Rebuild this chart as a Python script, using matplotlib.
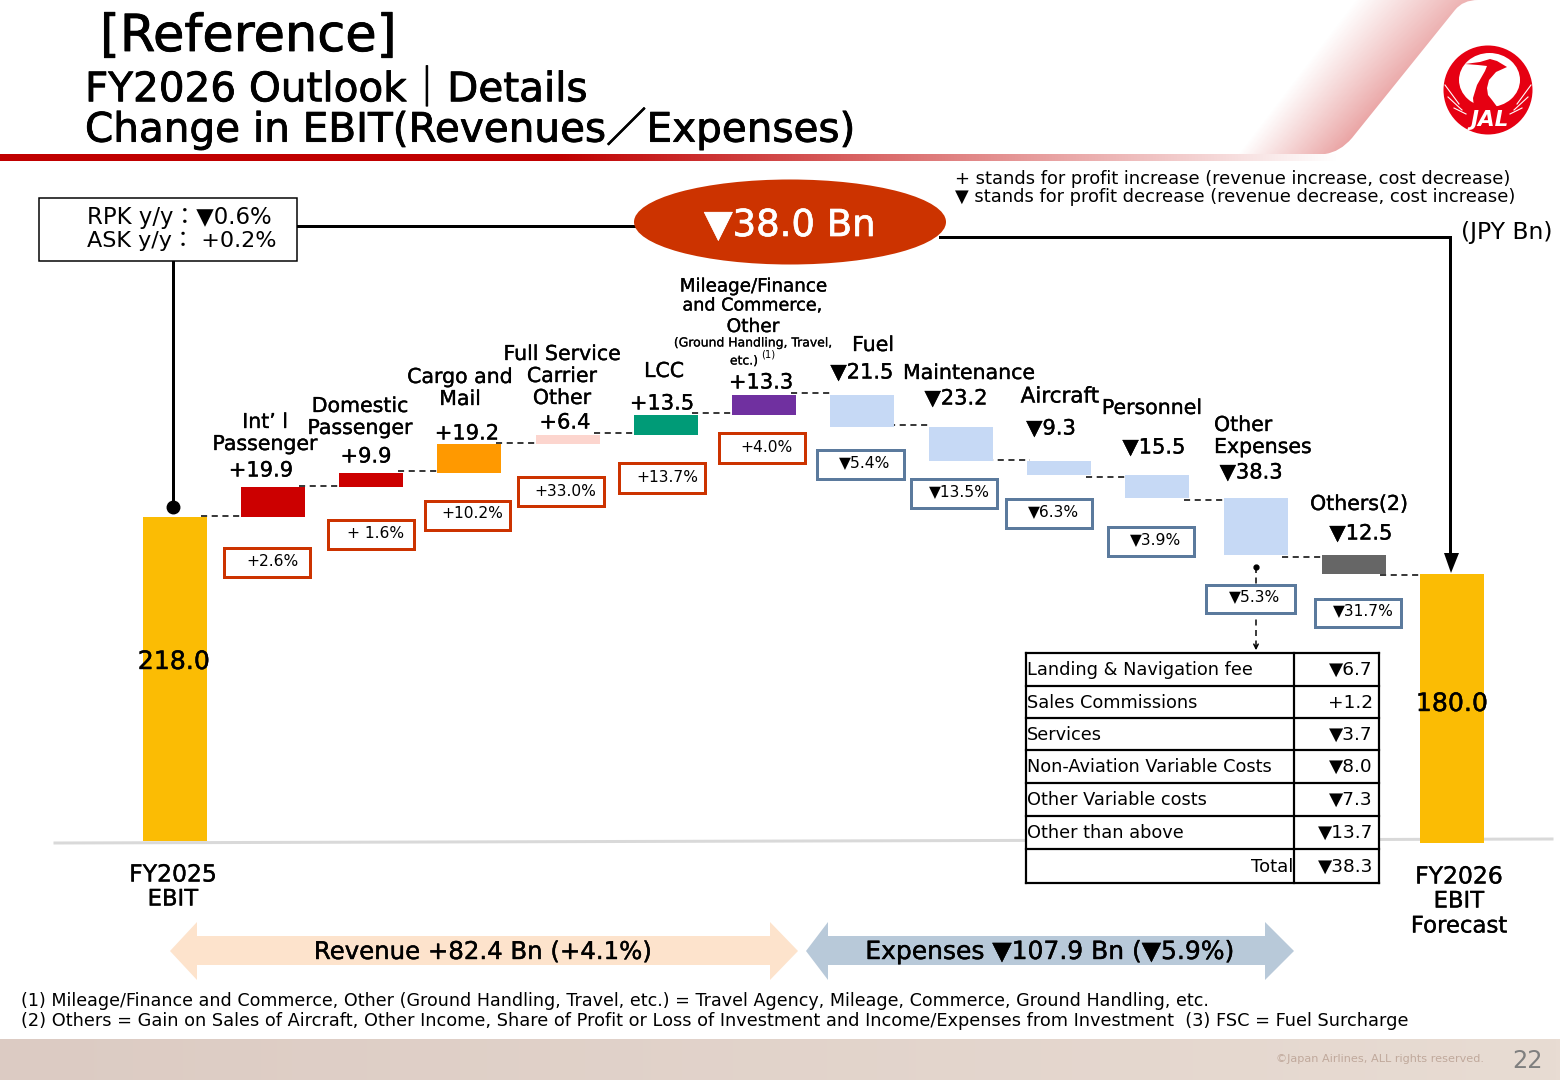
import numpy as np
import matplotlib
matplotlib.use("Agg")
import matplotlib.pyplot as plt
import matplotlib.patheffects as pe
from matplotlib.patches import Rectangle, Ellipse, Polygon, PathPatch
from matplotlib.path import Path

plt.rcParams['font.family'] = ['DejaVu Sans', 'Noto Sans CJK JP']

# ---------- data ----------
start_value = 218.0
end_value = 180.0
step_names = ["Int'l Passenger", "Domestic Passenger", "Cargo and Mail", "Full Service Carrier Other",
              "LCC", "Mileage/Finance and Commerce, Other", "Fuel", "Maintenance", "Aircraft",
              "Personnel", "Other Expenses", "Others(2)"]
step_values = [19.9, 9.9, 19.2, 6.4, 13.5, 13.3, -21.5, -23.2, -9.3, -15.5, -38.3, -12.5]
step_colors = ["#cc0000", "#cc0000", "#ff9900", "#fcd5ce", "#009b77", "#7030a0",
               "#c6d9f5", "#c6d9f5", "#c6d9f5", "#c6d9f5", "#c6d9f5", "#666666"]
step_pcts = ["+2.6%", "+ 1.6%", "+10.2%", "+33.0%", "+13.7%", "+4.0%",
             "▼5.4%", "▼13.5%", "▼6.3%", "▼3.9%", "▼5.3%", "▼31.7%"]
table_names = ["Landing & Navigation fee", "Sales Commissions", "Services",
               "Non-Aviation Variable Costs", "Other Variable costs", "Other than above"]
table_values = ["▼6.7", "+1.2", "▼3.7", "▼8.0", "▼7.3", "▼13.7"]
table_total = "▼38.3"

# ---------- layout (pixels) ----------
W, H = 1560, 1080
X0, DX = 174.6, 98.27
Y0, SY = 841.0, 1.486
BAR_W = 64 / DX
value_xy = [(261, 470), (366, 456), (467, 433), (565, 422), (662, 403), (761, 382),
            (862, 372), (956, 398), (1051, 428), (1154, 447), (1251, 472), (1361, 533)]
pct_boxes = [(224, 548, 310, 577, 272, 561), (328, 520, 414, 549, 376, 534),
             (425, 501, 510, 530, 472, 514), (518, 477, 604, 506, 565, 491),
             (619, 463, 705, 493, 667, 477), (719, 433, 805, 463, 767, 447),
             (817, 450, 904, 479, 865, 463), (911, 479, 997, 508, 959, 492),
             (1006, 499, 1092, 528, 1054, 512), (1108, 527, 1194, 556, 1156, 540),
             (1206, 585, 1295, 613, 1255, 597), (1315, 599, 1401, 627, 1363, 611)]
table_y = [653, 686, 718, 750, 783, 816, 849, 883]
table_x = [1026, 1294, 1379]

fig = plt.figure(figsize=(W / 100, H / 100), dpi=100, facecolor="white")

# ---------- waterfall axes ----------
ax = fig.add_axes([0, 0, 1, 1], zorder=1)
ax.set_xlim(-X0 / DX, (W - X0) / DX)
ax.set_ylim((Y0 - H) / SY, Y0 / SY)
ax.axis("off")

n = len(step_values)
tops = [start_value]
bottoms, heights = [], []
lvl = start_value
for v in step_values:
    new = lvl + v
    bottoms.append(min(lvl, new))
    heights.append(abs(v))
    lvl = new
    tops.append(lvl)

ax.bar([0], [start_value], width=BAR_W, color="#fbbc04", zorder=3)
ax.bar(np.arange(1, n + 1), heights, bottom=bottoms, width=BAR_W, color=step_colors, zorder=3)
ax.bar([n + 1], [end_value], width=BAR_W, color="#fbbc04", zorder=3)
ax.bar([n + 1], [2 / SY], bottom=-2 / SY, width=BAR_W, color="#fbbc04", zorder=3)
for i in range(n + 1):
    off = 1.0 if i < 9 else -1.2
    ax.plot([i + 0.27, i + 0.70], [tops[i] + off, tops[i] + off],
            color="black", lw=1.1, dashes=(4, 3), zorder=2)

# ---------- pixel overlay ----------
ov = fig.add_axes([0, 0, 1, 1], zorder=2)
ov.set_xlim(0, W)
ov.set_ylim(H, 0)
ov.axis("off")
ov.patch.set_alpha(0)


def T(x, y, s, px=20, ha="center", color="black", z=6, heavy=0.0, **kw):
    t = ov.text(x, y - 1.5, s, fontsize=px * 0.72, ha=ha, va="center_baseline", color=color, zorder=z, **kw)
    if heavy:
        t.set_path_effects([pe.withStroke(linewidth=heavy, foreground=color)])
    return t


def lw(px):
    return px * 0.72


# header bar gradient
xs = np.linspace(0, 1340, 670)
al = np.clip((1340 - xs) / (1340 - 560), 0, 1)
img = np.zeros((1, xs.size, 4))
img[..., 0] = 192 / 255
img[..., 3] = al
ov.imshow(img, extent=(0, 1340, 161, 154), aspect="auto", zorder=1, interpolation="bilinear")

# swoosh
yy, xx = np.mgrid[0:156, 1200:1490]
u = xx + 0.76 * yy
t = np.clip((u - 1354) / 112, 0, 1)
im2 = np.zeros(xx.shape + (4,))
im2[..., 0] = 205 / 255
im2[..., 1] = 40 / 255
im2[..., 2] = 40 / 255
im2[..., 3] = t * 0.48 * (1 - 0.25 * (1 - yy / 155))
swoosh = ov.imshow(im2, extent=(1200, 1490, 156, 0), aspect="auto", zorder=1)
verts = [(1200, 154), (1325, 154), (1340, 152), (1352, 138), (1455, 10), (1463, 0), (1478, 0), (1200, 0), (1200, 154)]
codes = [Path.MOVETO, Path.LINETO, Path.CURVE3, Path.CURVE3, Path.LINETO, Path.CURVE3, Path.CURVE3, Path.LINETO, Path.CLOSEPOLY]
clip = PathPatch(Path(verts, codes), transform=ov.transData, fc="none", ec="none")
ov.add_patch(clip)
swoosh.set_clip_path(clip)

# logo
RED = "#e60012"
ov.add_patch(Ellipse((1488, 90), 89, 89, fc=RED, ec="none", zorder=3))
ov.add_patch(Ellipse((1489.5, 80), 61, 54, fc="white", ec="none", zorder=4))
crane = [(1465, 64), (1480, 62), (1490, 59), (1497, 61), (1507, 67), (1496, 72), (1489, 80), (1487, 88), (1488, 95),
         (1492, 100), (1498, 108), (1474, 108), (1473, 98), (1477, 85), (1485, 71), (1487, 66), (1478, 65)]
ov.add_patch(Polygon(crane, closed=True, fc=RED, ec="none", zorder=5))
for x0, y0, x1, y1 in [(1445, 85, 1459, 104), (1448, 97, 1462, 110), (1454, 108, 1466, 114),
                       (1531, 85, 1517, 104), (1528, 97, 1514, 110), (1522, 108, 1510, 114)]:
    ov.plot([x0, x1], [y0, y1], color="white", lw=0.8, zorder=5)
T(1490, 119, "JAL", px=21.5, color="white", fontweight="bold", fontstyle="italic", z=7)

# titles
T(100, 33, "[Reference]", px=51, ha="left", heavy=0.6)
T(85, 87, "FY2026 Outlook｜Details", px=40.5, ha="left", heavy=0.6)
T(85, 126, "Change in EBIT(Revenues／Expenses)", px=40.5, ha="left", heavy=0.6)

# legend text
T(955, 178, "+ stands for profit increase (revenue increase, cost decrease)", px=17.85, ha="left")
T(955, 197, "▼ stands for profit decrease (revenue decrease, cost increase)", px=17.85, ha="left")
T(1461, 232, "(JPY Bn)", px=23.5, ha="left")

# RPK box and lines
ov.add_patch(Rectangle((39, 198), 258, 63, fc="white", ec="black", lw=lw(1.5), zorder=4))
T(87, 216.5, "RPK y/y：▼0.6%", px=22.7, ha="left")
T(87, 240.5, "ASK y/y： +0.2%", px=22.3, ha="left")
ov.plot([297, 640], [226, 226], color="black", lw=lw(3), zorder=2)
ov.plot([940, 1450, 1450], [237, 237, 556], color="black", lw=lw(3), zorder=2, solid_joinstyle="miter")
ov.add_patch(Polygon([(1444, 553), (1459, 553), (1451, 573)], closed=True, fc="black", ec="none", zorder=4))
ov.plot([173, 173], [261, 507], color="black", lw=lw(3), zorder=2)
ov.plot([173], [507], "o", color="black", ms=9, zorder=4)
ov.add_patch(Ellipse((790, 222), 312, 85, fc="#cc3300", ec="none", zorder=4))
T(790, 223, "▼38.0 Bn", px=37, color="white", z=6, heavy=0.5)

# baseline
ax.plot([(55 - X0) / DX, (1552 - X0) / DX], [-2 / SY, 2 / SY], color="#d9d9d9", lw=lw(3), zorder=2.5)

# names on bars
name_lines = [("Int’ l", 265, 422, 20.5), ("Passenger", 265, 444, 20.5), ("Domestic", 360, 406, 20.5),
              ("Passenger", 360, 428, 20.5), ("Cargo and", 460, 377, 20.5), ("Mail", 460, 399, 20.5),
              ("Full Service", 562, 354, 20.5), ("Carrier", 562, 376, 20.5), ("Other", 562, 398, 20.5),
              ("LCC", 664, 371, 20.5), ("Mileage/Finance", 753, 286, 18.3), ("and Commerce,", 753, 305, 17.6),
              ("Other", 753, 326, 18.6), ("Fuel", 873, 345, 20.5), ("Maintenance", 969, 373, 20.5),
              ("Aircraft", 1060, 396, 21.5), ("Personnel", 1152, 408, 20.5), ("Others(2)", 1359, 504, 20.5),
              ("FY2025", 173, 874, 23.5), ("EBIT", 173, 898, 22.7), ("FY2026", 1459, 876, 23.5),
              ("EBIT", 1459, 900, 22.7), ("Forecast", 1459, 925, 22.8)]
for s, x, y, sz in name_lines:
    T(x, y, s, px=sz, heavy=0.25)
T(1214, 425, "Other", px=20.5, ha="left", heavy=0.25)
T(1214, 447, "Expenses", px=20.5, ha="left", heavy=0.25)
T(753, 343, "(Ground Handling, Travel,", px=12.4, heavy=0.15)
T(744, 361, "etc.)", px=12.4, heavy=0.15)
T(768, 355, "(1)", px=10)

for v, (x, y) in zip(step_values, value_xy):
    T(x, y, f"+{v:.1f}" if v > 0 else f"▼{abs(v):.1f}", px=21, heavy=0.25)
T(174, 661, f"{start_value:.1f}", px=25.2, heavy=0.3)
T(1452, 703, f"{end_value:.1f}", px=25.2, heavy=0.3)

# percent boxes
for (x0, y0, x1, y1, tx, ty), s, v in zip(pct_boxes, step_pcts, step_values):
    col = "#cc3300" if v > 0 else "#5b7a9d"
    ov.add_patch(Rectangle((x0, y0), x1 - x0, y1 - y0, fc="white", ec=col, lw=lw(3), zorder=5))
    T(tx, ty, s, px=15.5)

# dashed arrow to table
ov.plot([1256, 1256], [567, 646], color="black", lw=lw(1.5), dashes=(4, 3), zorder=4)
ov.plot([1256], [567], "o", color="black", ms=3.5, zorder=4)
ov.annotate("", xy=(1256, 653), xytext=(1256, 643),
            arrowprops=dict(arrowstyle="->", color="black", lw=lw(1.5), mutation_scale=8), zorder=4)

# table
ov.add_patch(Rectangle((table_x[0], table_y[0]), table_x[2] - table_x[0], table_y[-1] - table_y[0], fc="white", ec="none", zorder=4))
for y in table_y:
    ov.plot([table_x[0], table_x[2]], [y, y], color="black", lw=lw(2.2), zorder=5)
for x in table_x:
    ov.plot([x, x], [table_y[0], table_y[-1]], color="black", lw=lw(2.2), zorder=5)
for i, (nm, val) in enumerate(zip(table_names, table_values)):
    yc = (table_y[i] + table_y[i + 1]) / 2
    T(table_x[0] + 1, yc, nm, px=17.7, ha="left")
    T(table_x[2] - 6, yc, val, px=18.5, ha="right")
yc = (table_y[6] + table_y[7]) / 2
T(table_x[1] - 1, yc, "Total", px=18, ha="right")
T(table_x[2] - 6, yc, table_total, px=18.5, ha="right")


# bottom arrows
def dbl(x0, x1, x2, x3, col):
    pts = [(x0, 951), (x1, 922), (x1, 936), (x2, 936), (x2, 922), (x3, 951), (x2, 980), (x2, 965), (x1, 965), (x1, 980)]
    ov.add_patch(Polygon(pts, closed=True, fc=col, ec="none", zorder=3))


dbl(170, 197, 770, 798, "#fde3cc")
dbl(806, 828, 1265, 1294, "#b8c9d9")
T(483, 951, "Revenue +82.4 Bn (+4.1%)", px=24.4, heavy=0.3)
T(1050, 951, "Expenses ▼107.9 Bn (▼5.9%)", px=25, heavy=0.3)

# footnotes
T(21, 1000, "(1) Mileage/Finance and Commerce, Other (Ground Handling, Travel, etc.) = Travel Agency, Mileage, Commerce, Ground Handling, etc.", px=17.48, ha="left")
T(21, 1020, "(2) Others = Gain on Sales of Aircraft, Other Income, Share of Profit or Loss of Investment and Income/Expenses from Investment  (3) FSC = Fuel Surcharge", px=17.73, ha="left")

# footer band
g = np.linspace(0, 1, 400)[None, :, None]
c0 = np.array([0xdc, 0xcb, 0xc3]) / 255
c1 = np.array([0xe8, 0xdc, 0xd3]) / 255
ov.imshow(c0 * (1 - g) + c1 * g, extent=(0, W, 1080, 1039), aspect="auto", zorder=1)
T(1484, 1060, "©Japan Airlines, ALL rights reserved.", px=11.2, ha="right", color="#c0a99c")
T(1528, 1060, "22", px=24, color="#7f7f7f")

ov.set_xlim(0, W)
ov.set_ylim(H, 0)
fig.savefig("out.png", dpi=100)
